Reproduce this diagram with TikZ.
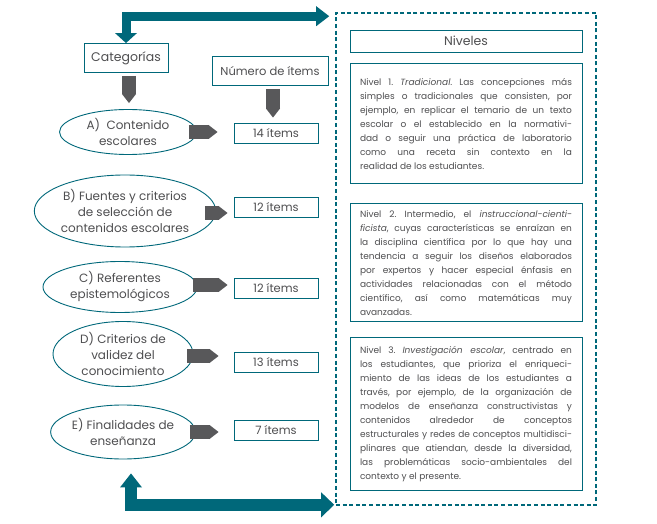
\documentclass[tikz,border=0pt]{standalone}
\usepackage{fontspec}
\setmainfont{Poppins}
\usetikzlibrary{arrows.meta,positioning,shapes.geometric}

\definecolor{petrol}{HTML}{00687A}
\definecolor{ink}{HTML}{4F4F51}
\definecolor{slate}{HTML}{58585A}

\begin{document}
\frenchspacing
\begin{tikzpicture}[
		x=1pt, y=-1pt,
		every node/.style={text=ink},
		box/.style={draw=petrol, line width=0.9pt, fill=white, inner sep=0pt},
		header/.style={box, minimum height=29pt, font=\fontsize{12.5}{15}\selectfont},
		category/.style={box, ellipse, align=center, font=\fontsize{12}{16}\selectfont},
		items/.style={box, minimum width=84pt, minimum height=20pt, font=\fontsize{11.5}{13}\selectfont},
		level/.style={box, text width=212pt, inner xsep=10pt, align=justify, font=\fontsize{9}{14}\selectfont},
		slab/.style={draw=slate, line width=14pt, -{Triangle[length=9pt, width=14pt, line width=0pt]}},
		flow/.style={draw=petrol, line width=#1},
	]
	\useasboundingbox (0,0) rectangle (657,524);

	% left column
	\node (cat) [header, minimum width=84pt] at (126,58) {Categorías};
	\node (num) [header, minimum width=116pt, font=\fontsize{11.5}{13}\selectfont] at (270,71) {Número de ítems};

	\node (catA) [category, minimum width=137pt, minimum height=45pt] at (128,132) {A)\ \ Contenido\\escolares};
	\node (catB) [category, minimum width=163pt, minimum height=72pt] at (125,211) {B) Fuentes y criterios\\de selección de\\contenidos escolares};
	\node (catC) [category, minimum width=154pt, minimum height=51pt] at (120,287) {C) Referentes\\epistemológicos};
	\node (catD) [category, minimum width=140pt, minimum height=65pt] at (123,354) {D) Criterios de\\validez del\\conocimiento};
	\node (catE) [category, minimum width=140pt, minimum height=54pt] at (123,432) {E) Finalidades de\\enseñanza};

	\node (itA) [items] at (276,133) {14 ítems};
	\node (itB) [items] at (276,207) {12 ítems};
	\node (itC) [items] at (276,288) {12 ítems};
	\node (itD) [items] at (276,362) {13 ítems};
	\node (itE) [items] at (276,430) {7 ítems};

	\draw[slab, shorten <=3pt, shorten >=6pt] ([xshift=3pt]cat.south) -- ([xshift=1pt]catA.north);
	\draw[slab, shorten <=3pt, shorten >=5pt] ([xshift=3pt]num.south) -- ([xshift=-3pt]itA.north);

	\draw[slab] ([xshift=-8pt]catA.east) -- ([xshift=-16pt]catA.east -| itA.west);
	\draw[slab] ([xshift=-11pt, yshift=-2pt]catB.east) -- ([xshift=-6pt, yshift=-2pt]catB.east -| itB.west);
	\draw[slab] ([xshift=-4pt, yshift=2pt]catC.east) -- ([xshift=-6pt, yshift=2pt]catC.east -| itC.west);
	\draw[slab] ([xshift=-6pt, yshift=-2pt]catD.east) -- ([xshift=-15pt, yshift=-2pt]catD.east -| itD.west);
	\draw[slab] ([xshift=-6pt]catE.east) -- ([xshift=-15pt]catE.east -| itE.west);

	% right column
	\node (frame) [draw=petrol, line width=1.6pt, dash pattern=on 4pt off 2.6pt, minimum width=260pt, minimum height=492pt] at (466,259) {};
	\node (niv) [box, minimum width=232pt, minimum height=22pt, font=\fontsize{12.5}{15}\selectfont] at (466,41) {Niveles};

	\node (lev1) [level, minimum height=120pt, below=11pt of niv] {Nivel 1. \textit{Tradicional}. Las concepciones más\linebreak
		simples o tradicionales que consisten, por\linebreak
		ejemplo, en replicar el temario de un texto\linebreak
		escolar o el establecido en la normativi-\linebreak
		dad o seguir una práctica de laboratorio\linebreak
		como una receta sin contexto en la\linebreak
		realidad de los estudiantes.};
	\node (lev2) [level, minimum height=118pt, below=19pt of lev1] {Nivel 2. Intermedio, el \textit{instruccional-cienti-\linebreak
		ficista}, cuyas características se enraízan en\linebreak
		la disciplina científica por lo que hay una\linebreak
		tendencia a seguir los diseños elaborados\linebreak
		por expertos y hacer especial énfasis en\linebreak
		actividades relacionadas con el método\linebreak
		científico, así como matemáticas muy\linebreak
		avanzadas.};
	\node (lev3) [level, minimum height=153pt, below=15pt of lev2] {Nivel 3. \textit{Investigación escolar}, centrado en\linebreak
		los estudiantes, que prioriza el enriqueci-\linebreak
		miento de las ideas de los estudiantes a\linebreak
		través, por ejemplo, de la organización de\linebreak
		modelos de enseñanza constructivistas y\linebreak
		contenidos alrededor de conceptos\linebreak
		estructurales y redes de conceptos multidisci-\linebreak
		plinares que atiendan, desde la diversidad,\linebreak
		las problemáticas socio-ambientales del\linebreak
		contexto y el presente.};

	% loop arrows
	\draw[flow=9pt, {Triangle[length=10pt, width=22pt, line width=0pt]}-{Triangle[length=13pt, width=20pt, line width=0pt]}]
		(cat.north) |- ([xshift=-6pt, yshift=-4pt]frame.north west);
	\draw[flow=12pt, {Triangle[length=14pt, width=22pt, line width=0pt]}-{Triangle[length=13pt, width=25pt, line width=0pt]}]
		([xshift=8pt, yshift=-14pt]catE.south) |- ([xshift=-1pt, yshift=1pt]frame.south west);
\end{tikzpicture}
\end{document}
